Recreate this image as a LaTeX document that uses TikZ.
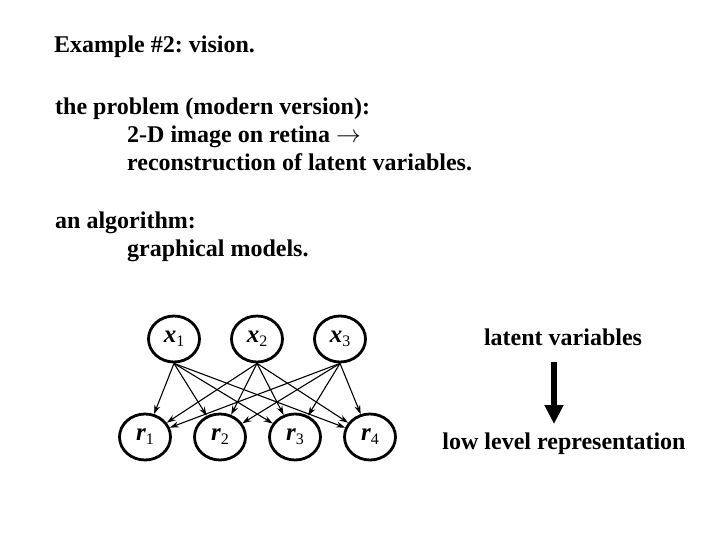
\documentclass[tikz,border=0pt]{standalone}
\usepackage{fontspec}
\setmainfont{Liberation Serif}
\usepackage{tikz}
\usetikzlibrary{shapes, positioning, arrows.meta}
\usepackage{amsmath}
\frenchspacing

\newcommand{\lowsub}[1]{\raisebox{-4bp}{\fontsize{16bp}{16bp}\selectfont #1}}

\begin{document}
\begin{tikzpicture}[x=1bp, y=-1bp, node distance=83bp, on grid,
		txt/.style={anchor=base west, inner sep=0pt, font=\fontsize{24bp}{28bp}\selectfont\bfseries},
		var/.style={ellipse, draw, line width=2.8bp, minimum width=51bp, minimum height=46bp, inner sep=0pt, font=\fontsize{25bp}{25bp}\selectfont},
		link/.style={-{Stealth[length=9bp, width=6bp]}, line width=1.1bp}]
			\useasboundingbox (0,0) rectangle (720,540);
			
			\node[txt] (title) at (54,53) {Example \#2: vision.};
			\node[txt] (prob) at (55,115) {the problem (modern version):};
			\node[txt] (prob1) at (127,143) {2-D image on retina $\rightarrow$};
			\node[txt] (prob2) at (127,171) {reconstruction of latent variables.};
			\node[txt] (alg) at (55,229) {an algorithm:};
			\node[txt] (alg1) at (127,257) {graphical models.};
			
			\coordinate (cx1) at (174,339);
			\coordinate [right=of cx1] (cx2);
			\coordinate [right=of cx2] (cx3);
			\coordinate (cr1) at (145,437);
			\coordinate [right=75bp of cr1] (cr2);
			\coordinate [right=75bp of cr2] (cr3);
			\coordinate [right=75bp of cr3] (cr4);
			
			\node[var] (x1) at (cx1) {\textbf{\textit{x}}\lowsub{1}};
			\node[var] (x2) at (cx2) {\textbf{\textit{x}}\lowsub{2}};
			\node[var] (x3) at (cx3) {\textbf{\textit{x}}\lowsub{3}};
			\node[var] (r1) at (cr1) {\textbf{\textit{r}}\lowsub{1}};
			\node[var] (r2) at (cr2) {\textbf{\textit{r}}\lowsub{2}};
			\node[var] (r3) at (cr3) {\textbf{\textit{r}}\lowsub{3}};
			\node[var] (r4) at (cr4) {\textbf{\textit{r}}\lowsub{4}};
			
			\path[link] (x1.south) edge (r1);
			\path[link] (x1.south) edge (r2);
			\path[link] (x1.south) edge (r3);
			\path[link] (x1.south) edge (r4);
			\path[link] (x2.south) edge (r1);
			\path[link] (x2.south) edge (r2);
			\path[link] (x2.south) edge (r3);
			\path[link] (x2.south) edge (r4);
			\path[link] (x3.south) edge (r1);
			\path[link] (x3.south) edge (r2);
			\path[link] (x3.south) edge (r3);
			\path[link] (x3.south) edge (r4);
			
			\node[txt, anchor=base] (lat) at (563,345) {latent variables};
			\node[txt, anchor=base] (low) at (564,449) {low level representation};
			\coordinate (atop) at (554,362);
			\coordinate (abot) at (554,424);
			\draw[line width=6bp, -{Triangle[width=18bp, length=19bp]}] (atop) -- (abot);
			\end{tikzpicture}
\end{document}
